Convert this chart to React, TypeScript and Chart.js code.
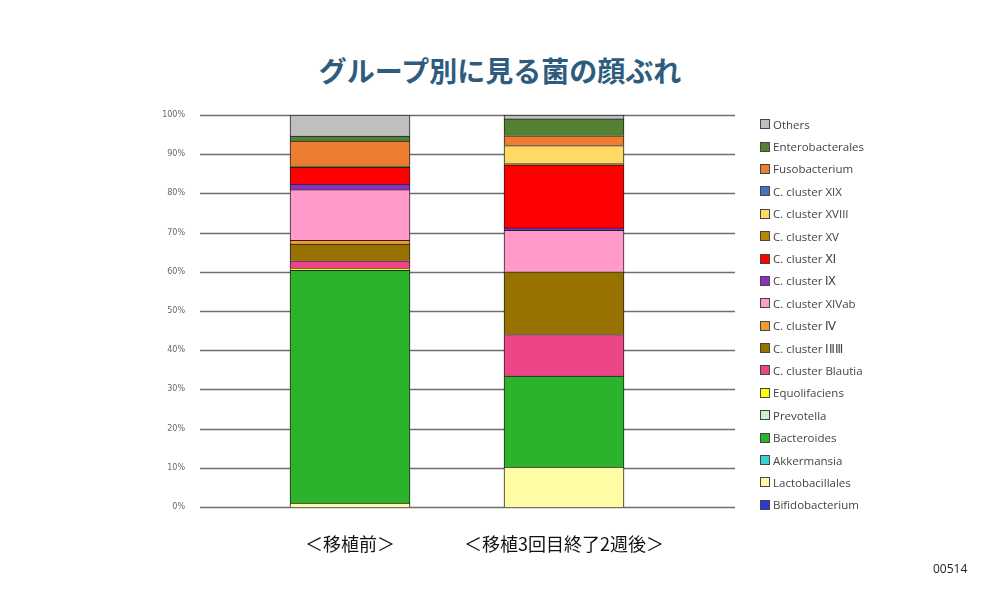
import React, { useEffect, useRef } from "react";
import { Chart, registerables } from "chart.js";
Chart.register(...registerables);

const categories = ["＜移植前＞", "＜移植3回目終了2週後＞"];
const seriesNames = [
  "Bifidobacterium", "Lactobacillales", "Akkermansia", "Bacteroides", "Prevotella",
  "Equolifaciens", "C. cluster Blautia", "C. cluster ⅠⅡⅢ", "C. cluster Ⅳ", "C. cluster XIVab",
  "C. cluster Ⅸ", "C. cluster Ⅺ", "C. cluster XV", "C. cluster XVIII", "C. cluster XIX",
  "Fusobacterium", "Enterobacterales", "Others",
];
const seriesColors = [
  "#2B3BD8", "#FFFCA6", "#3CCFD6", "#2BB42B", "#CDEFCB",
  "#FFFF00", "#EC4689", "#977200", "#F39A2C", "#FF9ACB",
  "#8E2EBF", "#FF0000", "#B58800", "#FFD966", "#4472C4",
  "#ED7D31", "#548235", "#BFBFBF",
];
const beforeValues = [0, 1.0, 0, 59.4, 0, 0.45, 1.95, 4.25, 1.0, 12.9, 1.4, 4.3, 0.4, 0, 0, 6.3, 1.3, 5.3];
const afterValues = [0, 10.2, 0, 23.2, 0, 0, 10.6, 16.0, 0, 10.6, 0.6, 16.0, 0.4, 4.6, 0, 2.5, 4.3, 1.0];
const yTicks = [0, 10, 20, 30, 40, 50, 60, 70, 80, 90, 100];

const gridPlugin = {
  id: "wideGrid",
  beforeDatasetsDraw(chart: any) {
    const { ctx, scales } = chart;
    ctx.save();
    ctx.strokeStyle = "#6e6e6e";
    ctx.lineWidth = 1.3;
    yTicks.forEach((t) => {
      const y = Math.round(scales.y.getPixelForValue(t)) + 0.5;
      ctx.beginPath();
      ctx.moveTo(200, y);
      ctx.lineTo(735, y);
      ctx.stroke();
    });
    ctx.restore();
  },
};

export default function App() {
  const ref = useRef<HTMLCanvasElement>(null);
  useEffect(() => {
    const chart = new Chart(ref.current!, {
      type: "bar",
      data: {
        labels: categories,
        datasets: seriesNames.map((n, i) => ({
          label: n,
          data: [beforeValues[i], afterValues[i]],
          backgroundColor: seriesColors[i],
          borderColor: "#222",
          borderWidth: 1,
          barThickness: 120,
        })),
      },
      options: {
        animation: false,
        responsive: false,
        layout: { padding: { left: 150, right: 329, top: 115, bottom: 40 } },
        plugins: { legend: { display: false }, tooltip: { enabled: false } },
        scales: {
          x: {
            stacked: true,
            grid: { display: false },
            border: { display: false },
            afterFit: (s: any) => { s.height = 53; },
            ticks: { color: "#111", font: { size: 18, family: "'Noto Sans CJK JP'" }, padding: 18, maxRotation: 0, minRotation: 0, autoSkip: false },
          },
          y: {
            stacked: true,
            min: 0,
            max: 100,
            grid: { display: false },
            border: { display: false },
            afterFit: (s: any) => { s.width = 93; },
            afterBuildTicks: (s: any) => { s.ticks = yTicks.map((v) => ({ value: v })); },
            ticks: {
              color: "#666",
              font: { size: 8, family: "'DejaVu Sans'" },
              padding: 50,
              callback: (v: any) => v + "%",
            },
          },
        },
      },
      plugins: [gridPlugin],
    });
    return () => chart.destroy();
  }, []);

  const legendNames = [...seriesNames].reverse();
  const legendColors = [...seriesColors].reverse();
  return (
    <div style={{ position: "absolute", left: 0, top: 0, width: 1000, height: 600, background: "#fff" }}>
      <div style={{ position: "absolute", left: 0, top: 50, width: 1000, textAlign: "center", fontFamily: "'Noto Sans CJK JP'", fontWeight: 700, fontSize: 28, color: "#2E5C7E" }}>
        グループ別に見る菌の顔ぶれ
      </div>
      <canvas ref={ref} width={1000} height={600} style={{ position: "absolute", left: 0, top: 0 }} />
      <div style={{ position: "absolute", left: 760, top: 113 }}>
        {legendNames.map((n, i) => (
          <div key={n} style={{ height: 22.4, display: "flex", alignItems: "center", fontFamily: "'Open Sans'", fontSize: 11.5, color: "#444" }}>
            <span style={{ width: 8, height: 8, background: legendColors[i], border: "1px solid #444", marginRight: 3 }} />
            {n}
          </div>
        ))}
      </div>
      <div style={{ position: "absolute", left: 933, top: 560, fontFamily: "'Open Sans'", fontSize: 12, color: "#222" }}>00514</div>
    </div>
  );
}
